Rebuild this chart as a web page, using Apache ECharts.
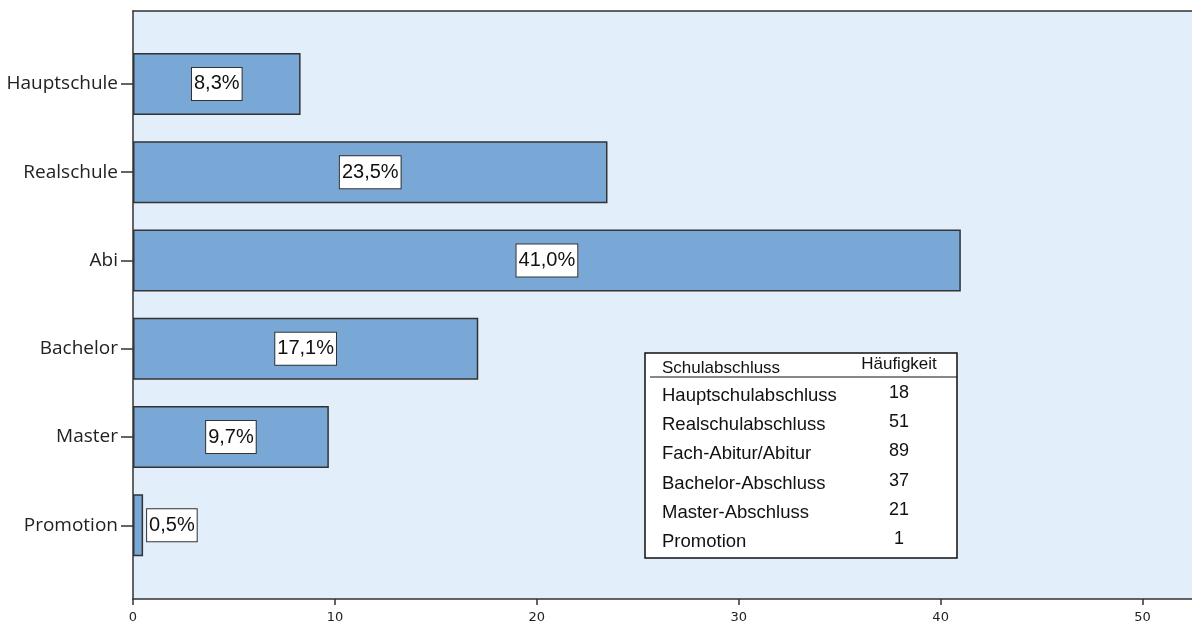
<!DOCTYPE html>
<html><head><meta charset="utf-8">
<script src="https://cdn.jsdelivr.net/npm/echarts@6/dist/echarts.min.js"></script>
<style>html,body{margin:0;padding:0;background:#fff}#c{width:1192px;height:628px}</style>
</head><body><div id="c"></div>
<script>
const categories = ['Hauptschule','Realschule','Abi','Bachelor','Master','Promotion'];
const percentValues = [8.3, 23.5, 41.0, 17.1, 9.7, 0.5];
const xTicks = [0, 10, 20, 30, 40, 50];
const tableHeader = ['Schulabschluss', 'Häufigkeit'];
const tableNames = ['Hauptschulabschluss','Realschulabschluss','Fach-Abitur/Abitur','Bachelor-Abschluss','Master-Abschluss','Promotion'];
const tableCounts = [18, 51, 89, 37, 21, 1];

const chart = echarts.init(document.getElementById('c'));
const L = 133, XMAX = 52.45;
const labelBox = {
  show: true,
  formatter: p => p.value.toFixed(1).replace('.', ',') + '%',
  fontFamily: 'Liberation Sans, Arial, sans-serif',
  fontSize: 20, color: '#111',
  backgroundColor: '#fff', borderColor: '#333', borderWidth: 1,
  padding: [7, 2, 5, 2]
};
const tableChildren = [
  {type:'rect', shape:{x:645, y:353, width:312, height:205}, style:{fill:'#fff', stroke:'#111', lineWidth:1.5}},
  {type:'line', shape:{x1:650, y1:377, x2:957, y2:377}, style:{stroke:'#111', lineWidth:1.2}},
  {type:'text', x:662, y:368, style:{text:tableHeader[0], font:'17px Liberation Sans, Arial', fill:'#111', textVerticalAlign:'middle'}},
  {type:'text', x:899, y:364, style:{text:tableHeader[1], font:'17px Liberation Sans, Arial', fill:'#111', textAlign:'center', textVerticalAlign:'middle'}}
];
tableNames.forEach((n, i) => {
  const y = 396 + i * 29.2;
  tableChildren.push({type:'text', x:662, y:y, style:{text:n, font:'18.5px Liberation Sans, Arial', fill:'#111', textVerticalAlign:'middle'}});
  tableChildren.push({type:'text', x:899, y:y - 3, style:{text:String(tableCounts[i]), font:'18px Liberation Sans, Arial', fill:'#111', textAlign:'center', textVerticalAlign:'middle'}});
});

chart.setOption({
  animation: false,
  grid: [
    {left: L, right: 0, top: 11, bottom: 29, show: true, backgroundColor: '#E2EEFA', borderWidth: 0},
    {left: L, right: 0, top: 39.8, bottom: 58.5}
  ],
  xAxis: [
    {gridIndex: 0, type: 'value', min: 0, max: XMAX, interval: 10,
     axisLine: {show: true, lineStyle: {color: '#333', width: 1.5}},
     axisTick: {show: true, length: 6, lineStyle: {color: '#333', width: 1.5}, customValues: xTicks},
     axisLabel: {color: '#222', fontSize: 13, fontFamily: 'DejaVu Sans, sans-serif', margin: 12, customValues: xTicks},
     splitLine: {show: false}},
    {gridIndex: 1, type: 'value', min: 0, max: XMAX, show: false},
    {gridIndex: 0, type: 'value', position: 'top', min: 0, max: XMAX,
     axisLine: {show: true, lineStyle: {color: '#333', width: 1.5}},
     axisTick: {show: false}, axisLabel: {show: false}, splitLine: {show: false}}
  ],
  yAxis: [
    {gridIndex: 0, type: 'value', min: 0, max: 1, axisLine: {show: true, onZero: false, lineStyle: {color: '#333', width: 1.5}},
     axisTick: {show: false}, axisLabel: {show: false}, splitLine: {show: false}},
    {gridIndex: 1, type: 'category', inverse: true, data: categories,
     axisLine: {show: false},
     axisTick: {show: true, length: 12, alignWithLabel: true, lineStyle: {color: '#333', width: 1.5}},
     axisLabel: {color: '#222', fontSize: 19, fontFamily: 'Open Sans, sans-serif', margin: 15, padding: [12, 0, 0, 0]}}
  ],
  series: [{
    type: 'bar', xAxisIndex: 1, yAxisIndex: 1,
    data: percentValues.map((v, i) => ({
      value: v,
      label: i === percentValues.length - 1 ? Object.assign({}, labelBox, {position: 'right', distance: 4}) : Object.assign({}, labelBox, {position: 'inside'})
    })),
    barWidth: 62,
    itemStyle: {color: '#7AA8D6', borderColor: '#333', borderWidth: 1.5},
    z: 3
  }],
  graphic: [{type: 'group', z: 100, children: tableChildren}]
});
</script></body></html>
